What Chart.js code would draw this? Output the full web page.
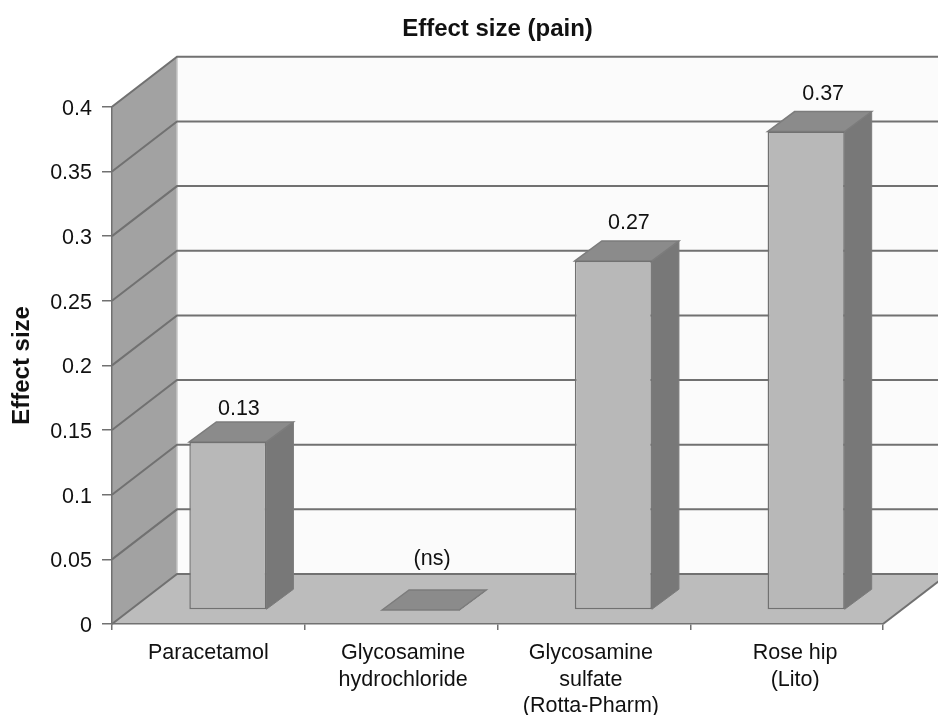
<!DOCTYPE html>
<html>
<head>
<meta charset="utf-8">
<style>
  body { margin: 0; background: #fff; }
  canvas { display: block; }
</style>
<script src="https://cdn.jsdelivr.net/npm/chart.js@4"></script>
</head>
<body>
<canvas id="effectChart" width="938" height="715"></canvas>
<script>
// Chart data
const categories = [
  "Paracetamol",
  ["Glycosamine", "hydrochloride"],
  ["Glycosamine", "sulfate", "(Rotta-Pharm)"],
  ["Rose hip", "(Lito)"]
];
const effectSizes = [0.13, 0, 0.27, 0.37];
const barLabels = ["0.13", "(ns)", "0.27", "0.37"];
const yTickValues = [0, 0.05, 0.1, 0.15, 0.2, 0.25, 0.3, 0.35, 0.4];
const yTickLabels = ["0", "0.05", "0.1", "0.15", "0.2", "0.25", "0.3", "0.35", "0.4"];

// 3D look
const wallDepth = { x: 65, y: 50 };
const barDepth = { x: 27, y: 20 };
const barShift = { x: 19.5, y: 14 };
const labelLift = [33, 51, 38, 38];
const labelNudge = [-2.5, -2, 2, 3.5];
const categoryNudge = [0, 2, -3, 8.5];
const lineColor = "#717171";
const fontFamily = "'Liberation Sans', Arial, sans-serif";

function polygon(ctx, points, fill, stroke, width) {
  ctx.beginPath();
  points.forEach((p, i) => i ? ctx.lineTo(p[0], p[1]) : ctx.moveTo(p[0], p[1]));
  ctx.closePath();
  ctx.fillStyle = fill;
  ctx.fill();
  if (stroke) {
    ctx.strokeStyle = stroke;
    ctx.lineWidth = width || 1;
    ctx.stroke();
  }
}

const depthPlugin = {
  id: "depthPlugin",
  // walls, floor and gridlines go under the axes
  beforeDraw(chart) {
    const ctx = chart.ctx;
    const xs = chart.scales.x;
    const ys = chart.scales.y;
    const left = xs.left, right = xs.right;
    const y0 = ys.getPixelForValue(0);
    const yTop = ys.getPixelForValue(0.4);
    const dx = wallDepth.x, dy = wallDepth.y;

    // category labels are not evenly centred in the original
    xs.getLabelItems().forEach((item, i) => {
      if (!item.nudged) {
        item.options.translation[0] += categoryNudge[i];
        item.nudged = true;
      }
    });

    ctx.save();
    // back wall
    polygon(ctx, [[left + dx, yTop - dy], [right + dx, yTop - dy], [right + dx, y0 - dy], [left + dx, y0 - dy]], "#fbfbfb");
    // side wall
    polygon(ctx, [[left, yTop], [left + dx, yTop - dy], [left + dx, y0 - dy], [left, y0]], "#a2a2a2");
    // floor
    polygon(ctx, [[left, y0], [left + dx, y0 - dy], [right + dx, y0 - dy], [right, y0]], "#bcbcbc");

    ctx.strokeStyle = "#c4c4c4";
    ctx.lineWidth = 1.5;
    ctx.beginPath();
    ctx.moveTo(left + dx, yTop - dy);
    ctx.lineTo(left + dx, y0 - dy);
    ctx.stroke();

    ctx.strokeStyle = lineColor;
    ctx.lineWidth = 2;
    yTickValues.forEach(v => {
      const y = ys.getPixelForValue(v);
      ctx.beginPath();
      ctx.moveTo(left, y);
      ctx.lineTo(left + dx, y - dy);
      ctx.lineTo(right + dx, y - dy);
      ctx.stroke();
    });
    // right edge of the floor
    ctx.beginPath();
    ctx.moveTo(right, y0);
    ctx.lineTo(right + dx, y0 - dy);
    ctx.stroke();
    ctx.restore();
  },
  beforeDatasetDraw(chart, args) {
    const ctx = chart.ctx;
    ctx.save();
    ctx.translate(barShift.x, -barShift.y);
    args.meta.data.forEach(bar => {
      const l = bar.x - bar.width / 2, r = bar.x + bar.width / 2;
      const dx = barDepth.x, dy = barDepth.y;
      polygon(ctx, [[r, bar.base], [r + dx, bar.base - dy], [r + dx, bar.y - dy], [r, bar.y]], "#787878", "#7c7c7c");
      polygon(ctx, [[l, bar.y], [l + dx, bar.y - dy], [r + dx, bar.y - dy], [r, bar.y]], "#8b8b8b", "#7c7c7c", 1.5);
    });
  },
  afterDatasetDraw(chart) {
    chart.ctx.restore();
  },
  afterDatasetsDraw(chart) {
    const ctx = chart.ctx;
    const bars = chart.getDatasetMeta(0).data;
    ctx.save();
    ctx.fillStyle = "#111";
    ctx.font = "21.5px " + fontFamily;
    ctx.textAlign = "center";
    ctx.textBaseline = "middle";
    bars.forEach((bar, i) => {
      ctx.fillText(barLabels[i], bar.x + barShift.x + barDepth.x / 2 + labelNudge[i], bar.y - barShift.y - labelLift[i]);
    });
    ctx.restore();
  }
};

new Chart(document.getElementById("effectChart"), {
  type: "bar",
  data: {
    labels: categories,
    datasets: [{
      data: effectSizes,
      backgroundColor: "#b8b8b8",
      borderColor: lineColor,
      borderWidth: 1.5,
      borderSkipped: false,
      barPercentage: 0.4,
      categoryPercentage: 1,
      clip: false
    }]
  },
  options: {
    responsive: false,
    animation: false,
    layout: { padding: { right: 55, top: 0, left: 0, bottom: 0 } },
    plugins: {
      legend: { display: false },
      tooltip: { enabled: false },
      title: {
        display: true,
        text: "Effect size (pain)",
        fullSize: false,
        color: "#111",
        font: { family: fontFamily, size: 24, weight: "bold" },
        padding: { top: 15, bottom: 63 }
      }
    },
    scales: {
      x: {
        grid: { drawOnChartArea: false, color: lineColor, lineWidth: 1.5, tickLength: 6, tickColor: lineColor },
        border: { color: lineColor, width: 1.5 },
        ticks: {
          color: "#111",
          font: { family: fontFamily, size: 21.5, lineHeight: 1.23 },
          maxRotation: 0,
          autoSkip: false,
          padding: 10
        },
        afterFit(scale) { scale.height = 91; }
      },
      y: {
        min: 0,
        max: 0.4,
        grid: { drawOnChartArea: false, color: lineColor, lineWidth: 1.5, tickLength: 10, tickColor: lineColor },
        border: { color: lineColor, width: 1.5 },
        ticks: {
          stepSize: 0.05,
          color: "#111",
          font: { family: fontFamily, size: 21.5 },
          padding: 10,
          labelOffset: 2,
          callback: (value, index) => yTickLabels[index]
        },
        title: {
          display: true,
          text: "Effect size",
          color: "#111",
          font: { family: fontFamily, size: 24, weight: "bold" },
          padding: { top: 8, bottom: 0 }
        },
        afterFit(scale) { scale.width = 112; }
      }
    }
  },
  plugins: [depthPlugin]
});
</script>
</body>
</html>
